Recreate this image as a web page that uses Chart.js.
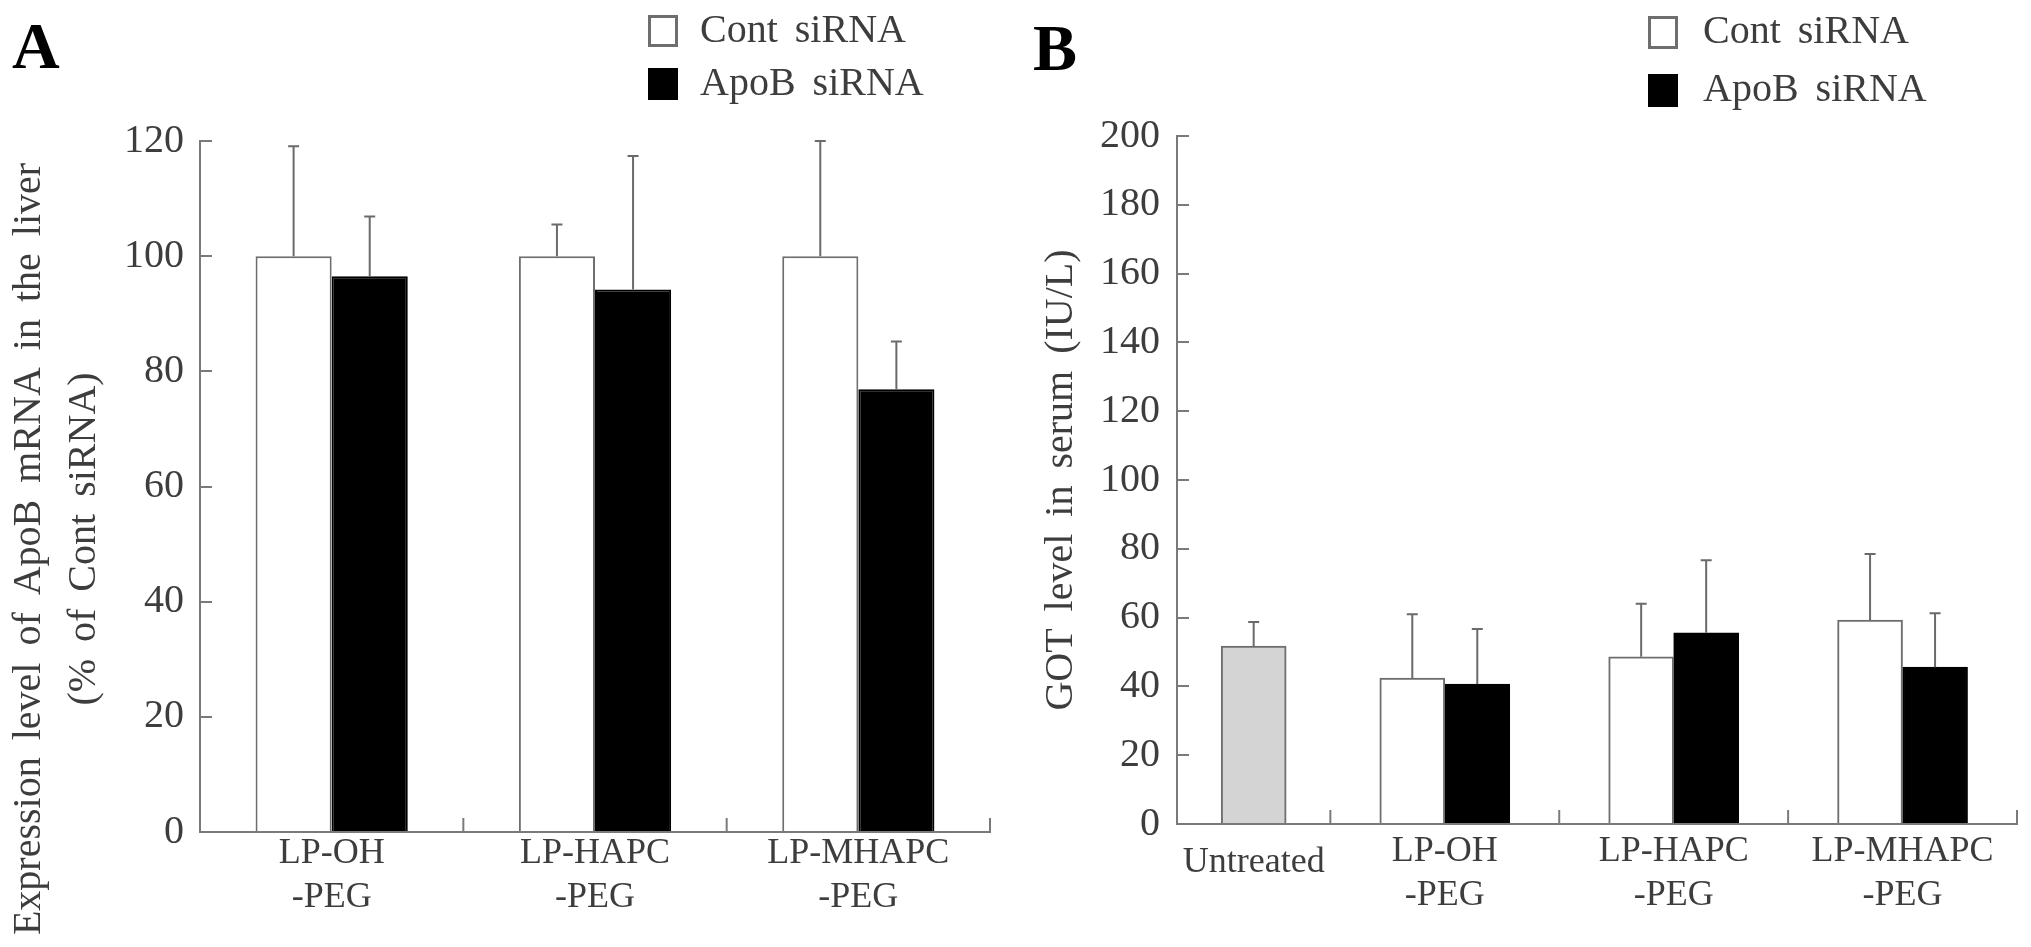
<!DOCTYPE html>
<html><head><meta charset="utf-8">
<script src="https://cdn.jsdelivr.net/npm/chart.js@4.4.1/dist/chart.umd.min.js"></script>
<style>
html,body{margin:0;padding:0;background:#fff;overflow:hidden;}
#wrap{position:relative;width:2031px;height:947px;background:#fff;}
canvas{position:absolute;top:0;}
#cA{left:0;} #cB{left:1015px;}
</style></head><body>
<div id="wrap"><canvas id="cA" width="1015" height="947"></canvas><canvas id="cB" width="1016" height="947"></canvas></div>
<script>
// ---------- Panel A data ----------
const groupsA = [['LP-OH', '-PEG'], ['LP-HAPC', '-PEG'], ['LP-MHAPC', '-PEG']];
const contA = [100, 100, 100];
const contAErr = [19.1, 5.5, 20.0];
const apobA = [96.5, 94.2, 76.9];
const apobAErr = [10.4, 23.2, 8.3];
const yMaxA = 120, yStepA = 20;

// ---------- Panel B data ----------
const groupsB = [['Untreated'], ['LP-OH', '-PEG'], ['LP-HAPC', '-PEG'], ['LP-MHAPC', '-PEG']];
const untreatedB = [51.7];
const untreatedBErr = [7.0];
const contB = [42.4, 48.6, 59.3];
const contBErr = [18.6, 15.4, 19.2];
const apobB = [40.7, 55.6, 45.6];
const apobBErr = [16.0, 21.1, 15.7];
const yMaxB = 200, yStepB = 20;

const seriesNames = ['Cont siRNA', 'ApoB siRNA'];
const untreatedName = 'Untreated';
const yTitleA = ['Expression level of ApoB mRNA in the liver', '(% of Cont siRNA)'];
const yTitleB = 'GOT level in serum (IU/L)';

// ---------- styling / layout ----------
const FONT = "'Liberation Serif','Times New Roman',serif";
const TXT = '#3d3d3d', AX = '#7a7a7a', EDGE = '#6e6e6e', ERR = '#6a6a6a';
const FIRST_SLOT = 0.67; // relative width of the narrower "Untreated" slot in panel B

const centersB = [FIRST_SLOT / 2];
for (let i = 1; i < groupsB.length; i++) centersB.push(FIRST_SLOT - 0.5 + i);
const boundsB = [];
for (let i = 0; i < groupsB.length; i++) boundsB.push(FIRST_SLOT + i);

// ---------- plugins ----------
const errorBars = {
  id: 'errorBars',
  afterDatasetsDraw(chart, args, o) {
    const ctx = chart.ctx, y = chart.scales.y;
    ctx.save();
    ctx.strokeStyle = o.color; ctx.lineWidth = o.width;
    chart.data.datasets.forEach((ds, di) => {
      if (!ds.errors) return;
      const meta = chart.getDatasetMeta(di);
      meta.data.forEach((el, i) => {
        const raw = ds.data[i];
        const v = (raw !== null && typeof raw === 'object') ? raw.y : raw;
        const e = ds.errors[i];
        if (v == null || e == null) return;
        const yt = y.getPixelForValue(v + e);
        ctx.beginPath();
        ctx.moveTo(el.x, el.y); ctx.lineTo(el.x, yt);
        ctx.moveTo(el.x - o.cap / 2, yt); ctx.lineTo(el.x + o.cap / 2, yt);
        ctx.stroke();
      });
    });
    ctx.restore();
  }
};

const boundaryTicks = {
  id: 'boundaryTicks',
  afterDraw(chart, args, o) {
    const x = chart.scales.x, ctx = chart.ctx, b = chart.chartArea.bottom;
    ctx.save();
    ctx.strokeStyle = o.color; ctx.lineWidth = o.width;
    o.values.forEach(v => {
      const px = x.getPixelForValue(v);
      ctx.beginPath(); ctx.moveTo(px, b); ctx.lineTo(px, b - o.length); ctx.stroke();
    });
    ctx.restore();
  }
};

const panelText = {
  id: 'panelText',
  afterDraw(chart, args, o) {
    const ctx = chart.ctx;
    ctx.save();
    if ('wordSpacing' in ctx) ctx.wordSpacing = o.wordSpacing;
    ctx.fillStyle = '#000';
    ctx.font = `bold ${o.letter.size}px ${FONT}`;
    ctx.textAlign = 'left'; ctx.textBaseline = 'alphabetic';
    ctx.fillText(o.letter.text, o.letter.x, o.letter.y);

    ctx.fillStyle = TXT;
    ctx.font = `${o.titleSize}px ${FONT}`;
    ctx.textAlign = 'center'; ctx.textBaseline = 'middle';
    o.titles.forEach(t => {
      ctx.save(); ctx.translate(t.x, t.y); ctx.rotate(-Math.PI / 2);
      ctx.fillText(t.text, 0, 0); ctx.restore();
    });

    const L = o.legend;
    L.items.forEach((di, k) => {
      const ds = chart.data.datasets[di];
      const top = L.y + k * L.gap;
      ctx.fillStyle = ds.backgroundColor;
      ctx.fillRect(L.x, top, L.box, L.boxH);
      ctx.strokeStyle = ds.borderColor; ctx.lineWidth = 3;
      ctx.strokeRect(L.x + 1.5, top + 1.5, L.box - 3, L.boxH - 3);
      ctx.fillStyle = TXT;
      ctx.font = `${L.size}px ${FONT}`;
      ctx.textAlign = 'left'; ctx.textBaseline = 'alphabetic';
      ctx.fillText(ds.label, L.x + L.textDx, top + L.baseDy);
    });
    ctx.restore();
  }
};

function yAxis(max, step, width, pad) {
  return {
    min: 0, max: max,
    ticks: { stepSize: step, font: { family: FONT, size: 40 }, color: TXT, padding: pad },
    grid: { drawOnChartArea: false, drawTicks: true, tickLength: -12, color: AX, lineWidth: 2 },
    border: { color: AX, width: 2 },
    afterFit(s) { s.width = width; }
  };
}

// ---------- Chart A ----------
new Chart(document.getElementById('cA'), {
  type: 'bar',
  data: {
    labels: groupsA,
    datasets: [
      { label: seriesNames[0], data: contA, errors: contAErr, backgroundColor: '#ffffff', borderColor: EDGE, borderWidth: 2 },
      { label: seriesNames[1], data: apobA, errors: apobAErr, backgroundColor: '#000000', borderColor: '#000000', borderWidth: 2 }
    ]
  },
  options: {
    responsive: false, animation: false, devicePixelRatio: 1,
    layout: { padding: { top: 141, right: 25, left: 0, bottom: 0 } },
    datasets: { bar: { categoryPercentage: 0.578, barPercentage: 1 } },
    plugins: {
      legend: { display: false }, tooltip: { enabled: false },
      errorBars: { color: ERR, width: 2, cap: 11 },
      boundaryTicks: { values: [0.5, 1.5, 2.5], color: AX, width: 2, length: 14 },
      panelText: {
        wordSpacing: '7px',
        letter: { text: 'A', x: 12, y: 68, size: 66 },
        titleSize: 40,
        titles: [{ x: 29, y: 549, text: yTitleA[0] }, { x: 84, y: 539, text: yTitleA[1] }],
        legend: { items: [0, 1], x: 648, y: 15, gap: 53, box: 30, boxH: 32, textDx: 52, baseDy: 27, size: 40 }
      }
    },
    scales: {
      x: {
        grid: { drawOnChartArea: false, drawTicks: false },
        border: { color: AX, width: 2 },
        ticks: { font: { family: FONT, size: 36, lineHeight: 44 / 36 }, color: TXT, padding: 0, maxRotation: 0, autoSkip: false },
        afterFit(s) { s.height = 115; }
      },
      y: yAxis(yMaxA, yStepA, 200, 28)
    }
  },
  plugins: [errorBars, boundaryTicks, panelText]
});

// ---------- Chart B ----------
new Chart(document.getElementById('cB'), {
  type: 'bar',
  data: {
    datasets: [
      { label: untreatedName, data: untreatedB.map(v => ({ x: centersB[0], y: v })), errors: untreatedBErr, backgroundColor: '#d4d4d4', borderColor: EDGE, borderWidth: 2 },
      { label: seriesNames[0], data: contB.map((v, i) => ({ x: centersB[i + 1], y: v })), errors: contBErr, backgroundColor: '#ffffff', borderColor: EDGE, borderWidth: 2 },
      { label: seriesNames[1], data: apobB.map((v, i) => ({ x: centersB[i + 1], y: v })), errors: apobBErr, backgroundColor: '#000000', borderColor: '#000000', borderWidth: 2 }
    ]
  },
  options: {
    responsive: false, animation: false, devicePixelRatio: 1,
    layout: { padding: { top: 136, right: 14, left: 0, bottom: 0 } },
    datasets: { bar: { barThickness: 65, skipNull: true } },
    plugins: {
      legend: { display: false }, tooltip: { enabled: false },
      errorBars: { color: ERR, width: 2, cap: 11 },
      boundaryTicks: { values: boundsB, color: AX, width: 2, length: 14 },
      panelText: {
        wordSpacing: '7px',
        letter: { text: 'B', x: 18, y: 70, size: 66 },
        titleSize: 40,
        titles: [{ x: 46, y: 480, text: yTitleB }],
        legend: { items: [1, 2], x: 633, y: 16, gap: 58, box: 30, boxH: 33, textDx: 55, baseDy: 27, size: 40 }
      }
    },
    scales: {
      x: {
        type: 'linear', min: 0, max: FIRST_SLOT + groupsB.length - 1, offset: false,
        afterBuildTicks(s) { s.ticks = centersB.map(v => ({ value: v })); },
        grid: { drawOnChartArea: false, drawTicks: false, offset: false },
        border: { color: AX, width: 2 },
        ticks: {
          autoSkip: false, maxRotation: 0, color: TXT, padding: 6,
          callback: (v, i) => groupsB[i],
          font: (c) => ({ family: FONT, size: 36, lineHeight: (groupsB[c.index] && groupsB[c.index].length === 1) ? 66 / 36 : 44 / 36 })
        },
        afterFit(s) { s.height = 123; }
      },
      y: yAxis(yMaxB, yStepB, 162, 29)
    }
  },
  plugins: [errorBars, boundaryTicks, panelText]
});
</script>
</body></html>
